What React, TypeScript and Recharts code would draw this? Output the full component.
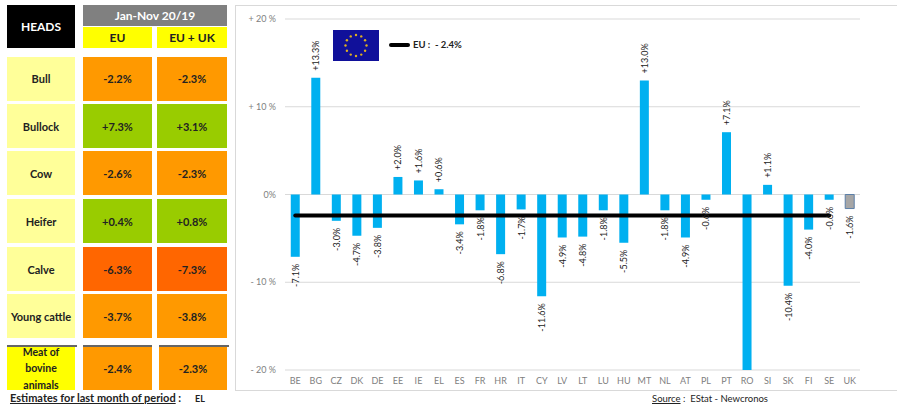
import { ComposedChart, Bar, Line, Cell, XAxis, YAxis, CartesianGrid, LabelList } from 'recharts';

// country chart
const countries = ['BE', 'BG', 'CZ', 'DK', 'DE', 'EE', 'IE', 'EL', 'ES', 'FR', 'HR', 'IT', 'CY', 'LV', 'LT', 'LU', 'HU', 'MT', 'NL', 'AT', 'PL', 'PT', 'RO', 'SI', 'SK', 'FI', 'SE', 'UK'];
const changes = [-7.1, 13.3, -3.0, -4.7, -3.8, 2.0, 1.6, 0.6, -3.4, -1.8, -6.8, -1.7, -11.6, -4.9, -4.8, -1.8, -5.5, 13.0, -1.8, -4.9, -0.6, 7.1, -20, 1.1, -10.4, -4.0, -0.6, -1.6];
const labels = ['-7.1%', '+13.3%', '-3.0%', '-4.7%', '-3.8%', '+2.0%', '+1.6%', '+0.6%', '-3.4%', '-1.8%', '-6.8%', '-1.7%', '-11.6%', '-4.9%', '-4.8%', '-1.8%', '-5.5%', '+13.0%', '-1.8%', '-4.9%', '-0.6%', '+7.1%', '', '+1.1%', '-10.4%', '-4.0%', '-0.6%', '-1.6%'];
const euAverage = -2.4;
const yTicks = [-20, -10, 0, 10, 20];

// left table
const heads = ['Bull', 'Bullock', 'Cow', 'Heifer', 'Calve', 'Young cattle'];
const euValues = ['-2.2%', '+7.3%', '-2.6%', '+0.4%', '-6.3%', '-3.7%'];
const euUkValues = ['-2.3%', '+3.1%', '-2.3%', '+0.8%', '-7.3%', '-3.8%'];
const rowColors = ['#ff9900', '#99cc00', '#ff9900', '#99cc00', '#ff6600', '#ff9900'];

const chartData = countries.map((country, i) => ({
  country,
  change: changes[i],
  label: labels[i],
  eu: country === 'UK' ? null : euAverage,
}));

const FONT = 'Lato, sans-serif';

const formatTick = (v: number) => (v === 0 ? '0%' : v > 0 ? `+ ${v} %` : `- ${-v} %`);

function RotatedLabel(props: any) {
  const { x, y, width, height, index } = props;
  const text = labels[index];
  if (!text) return null;
  const cx = x + width / 2;
  const positive = changes[index] > 0;
  // height can come through negative for bars under zero
  const edge = positive ? Math.min(y, y + height) - 7 : Math.max(y, y + height) + 7;
  return (
    <text
      x={cx}
      y={edge}
      transform={`rotate(-90 ${cx} ${edge})`}
      textAnchor={positive ? 'start' : 'end'}
      dominantBaseline="central"
      fontSize={9}
      fontFamily={FONT}
      fill="#222"
    >
      {text}
    </text>
  );
}

function Box({ x, y, w, h, bg, color = '#222', size = 11, bold = true, lineHeight, children }: any) {
  return (
    <div
      style={{
        position: 'absolute',
        left: x,
        top: y,
        width: w,
        height: h,
        background: bg,
        color,
        fontSize: size,
        fontWeight: bold ? 700 : 400,
        lineHeight,
        display: 'flex',
        alignItems: 'center',
        justifyContent: 'center',
        textAlign: 'center',
        whiteSpace: 'pre-line',
      }}
    >
      {children}
    </div>
  );
}

function EuFlag() {
  const stars = Array.from({ length: 12 }, (_, i) => i);
  return (
    <svg style={{ position: 'absolute', left: 333, top: 30 }} width={46} height={31}>
      <rect x={0} y={0} width={46} height={31} fill="#10109a" />
      {stars.map((i) => {
        const a = (i * Math.PI) / 6;
        return <circle key={i} cx={23 + 10.5 * Math.sin(a)} cy={15.5 - 10.5 * Math.cos(a)} r={1.2} fill="#e0b020" />;
      })}
    </svg>
  );
}

export default function App() {
  const rowTop = [56.5, 104, 151, 199, 247, 294];
  return (
    <div style={{ position: 'absolute', left: 0, top: 0, width: 897, height: 410, background: '#fff', fontFamily: FONT, overflow: 'hidden' }}>
      <Box x={7} y={5} w={68} h={43} bg="#000" color="#fff" size={12}>HEADS</Box>
      <Box x={83} y={5} w={144} h={21} bg="#808080" color="#fff" size={12}>Jan-Nov 20/19</Box>
      <Box x={83} y={27} w={69} h={21} bg="#ffff00" size={12}>EU</Box>
      <Box x={157} y={27} w={70} h={21} bg="#ffff00" size={12}>EU + UK</Box>

      {heads.map((head, i) => (
        <div key={head}>
          <Box x={7} y={rowTop[i]} w={68} h={44} bg="#ffff99">{head}</Box>
          <Box x={83} y={rowTop[i]} w={69} h={44} bg={rowColors[i]}>{euValues[i]}</Box>
          <Box x={157} y={rowTop[i]} w={70} h={44} bg={rowColors[i]}>{euUkValues[i]}</Box>
        </div>
      ))}

      <div style={{ position: 'absolute', left: 7, top: 345, width: 70, height: 2, background: '#666' }} />
      <div style={{ position: 'absolute', left: 83, top: 345, width: 69, height: 2, background: '#666' }} />
      <div style={{ position: 'absolute', left: 159, top: 345, width: 70, height: 2, background: '#666' }} />
      <Box x={7} y={347} w={68} h={43} bg="#ffff00" size={10.5} lineHeight="16.5px">{'Meat of\nbovine\nanimals'}</Box>
      <Box x={83} y={347} w={69} h={43} bg="#ff9900">-2.4%</Box>
      <Box x={159} y={347} w={68} h={43} bg="#ff9900">-2.3%</Box>

      <div style={{ position: 'absolute', left: 10, top: 391, fontSize: 11, fontWeight: 700, color: '#222', whiteSpace: 'pre' }}>
        <span style={{ textDecoration: 'underline' }}>Estimates for last month of period</span> :
      </div>
      <div style={{ position: 'absolute', left: 195, top: 393, fontSize: 9, fontWeight: 700, color: '#222' }}>EL</div>

      {/* chart frame */}
      <div style={{ position: 'absolute', left: 235, top: 5, width: 662, height: 386, borderTop: '1px solid #d9d9d9', borderLeft: '1px solid #d9d9d9', borderBottom: '1px solid #d9d9d9', boxSizing: 'border-box' }} />

      <div style={{ position: 'absolute', left: 236, top: 6 }}>
        <ComposedChart
          width={660}
          height={384}
          data={chartData}
          margin={{ top: 13, right: 0, bottom: 0, left: 0 }}
          barCategoryGap="28%"
        >
          <CartesianGrid vertical={false} stroke="#d9d9d9" strokeWidth={1} />
          <XAxis
            dataKey="country"
            axisLine={false}
            tickLine={false}
            interval={0}
            height={20}
            tick={{ fontSize: 9, fill: '#808080', fontFamily: FONT }}
            tickMargin={2}
          />
          <YAxis
            yAxisId={0}
            domain={[-20, 20]}
            ticks={yTicks}
            width={49}
            axisLine={false}
            tickLine={false}
            tickFormatter={formatTick}
            tick={{ fontSize: 9, fill: '#808080', fontFamily: FONT }}
            tickMargin={3}
          />
          <YAxis
            yAxisId={1}
            orientation="right"
            domain={[-20, 20]}
            ticks={yTicks}
            width={36}
            axisLine={false}
            tickLine={false}
            tickFormatter={formatTick}
            tick={{ fontSize: 9, fill: '#808080', fontFamily: FONT }}
            tickMargin={3}
          />
          <Bar dataKey="change" yAxisId={0} fill="#00b0f0" isAnimationActive={false}>
            {chartData.map((d) => (
              <Cell key={d.country} fill={d.country === 'UK' ? '#a6a6a6' : '#00b0f0'} stroke={d.country === 'UK' ? '#5b7fa8' : undefined} />
            ))}
            <LabelList dataKey="label" content={RotatedLabel} />
          </Bar>
          <Line dataKey="eu" yAxisId={0} stroke="#000" strokeWidth={4} strokeLinecap="round" dot={false} isAnimationActive={false} connectNulls={false} />
        </ComposedChart>
      </div>

      <EuFlag />
      <div style={{ position: 'absolute', left: 389, top: 43, width: 21, height: 4, borderRadius: 2, background: '#000' }} />
      <div style={{ position: 'absolute', left: 413, top: 39, fontSize: 9.5, fontWeight: 700, color: '#222', whiteSpace: 'pre' }}>EU :  - 2.4%</div>

      <div style={{ position: 'absolute', left: 652, top: 393, fontSize: 9.5, color: '#222', whiteSpace: 'pre' }}>
        <span style={{ textDecoration: 'underline' }}>Source</span> :  EStat - Newcronos
      </div>
    </div>
  );
}
